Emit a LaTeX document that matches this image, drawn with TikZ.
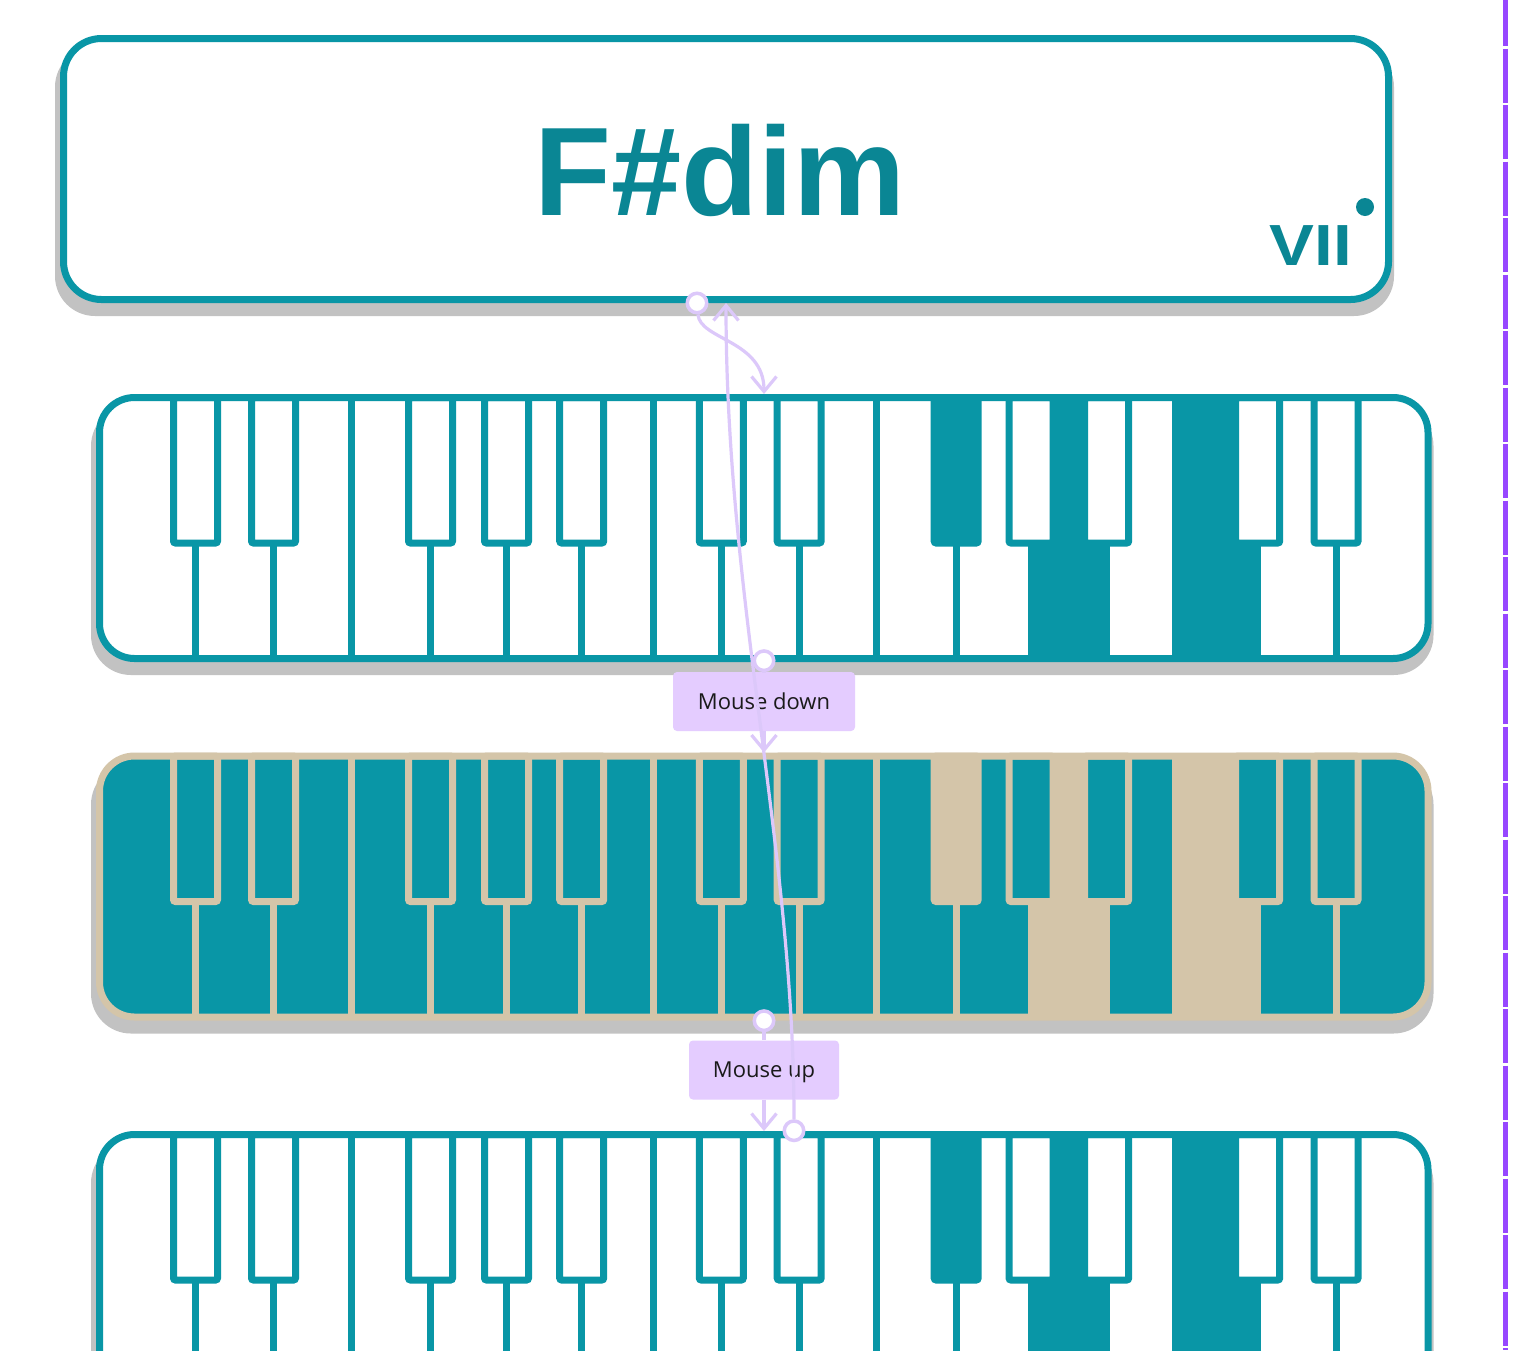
\documentclass[tikz,border=0pt]{standalone}
\usepackage{fontspec}
\newfontfamily\chordfont{Liberation Sans}
\newfontfamily\labelfont{Open Sans}
\usetikzlibrary{arrows.meta}

\definecolor{keyteal}{HTML}{0996A6}
\definecolor{chordteal}{HTML}{0A8694}
\definecolor{keybeige}{HTML}{D4C5A9}
\definecolor{shadowgrey}{HTML}{C2C2C2}
\definecolor{wirelav}{HTML}{DCC8FA}
\definecolor{labellav}{HTML}{E4CCFF}
\definecolor{labeltext}{HTML}{1A1A1A}
\definecolor{sectionpurple}{HTML}{9747FF}

\tikzset{
  kbframe/.style={rectangle, rounded corners=35pt, line width=7pt, inner sep=0pt,
    minimum width=1328.5pt, minimum height=261pt},
  keyline/.style={line width=7pt},
  kbshadow/.style={fill=shadowgrey, rounded corners=40pt},
  chordframe/.style={rectangle, rounded corners=38pt, line width=7pt, draw=keyteal,
    fill=white, inner sep=0pt, minimum width=1325pt, minimum height=261pt},
  chordname/.style={text=chordteal, inner sep=0pt, anchor=base,
    font=\chordfont\bfseries\fontsize{126}{126}\selectfont},
  degreename/.style={text=chordteal, inner sep=0pt, anchor=base,
    font=\chordfont\bfseries\fontsize{58}{58}\selectfont},
  degreedot/.style={circle, fill=chordteal, minimum size=18pt, inner sep=0pt},
  sectionline/.style={draw=sectionpurple, line width=5pt,
    dash pattern=on 54pt off 2.5pt, dash phase=8pt},
  wire/.style={draw=wirelav, line width=3.2pt},
  wirearrow/.style={wire, -{Straight Barb[length=15pt,width=25pt]}},
  port/.style={circle, draw=wirelav, fill=white, line width=3.5pt,
    minimum size=19.5pt, inner sep=0pt},
  evlabel/.style={rectangle, fill=labellav, rounded corners=4pt, inner sep=0pt,
    minimum height=59pt, text height=15.8pt, text depth=0pt, text=labeltext,
    font=\labelfont\fontsize{22}{26}\selectfont},
}

% #1 name, #2 vertical offset, #3 line colour, #4 key colour
\newcommand{\pianoKeys}[4]{%
  \begin{scope}[shift={(0,#2)}]
    \fill[kbshadow] (91,406) rectangle (1433.5,675);
    \node[kbframe, draw=#3, fill=#4] (#1) at (763.75,528) {};
    \foreach \bx in {195.5,273.5,430.5,506.5,581.7,721.3,799.2,956.2,1031,1106.7,1257.7,1336}{
      \draw[keyline, draw=#3, rounded corners=2pt] (\bx-22,397.5) rectangle (\bx+22,543);
      \draw[keyline, draw=#3] (\bx,543) -- (\bx,658.5);
    }
    \foreach \wx in {351,653,876,1175}
      \draw[keyline, draw=#3] (\wx,397.5) -- (\wx,658.5);
    % held notes F#, A, C
    \fill[#3] (934.2,397.5) rectangle (978.2,543);
    \fill[#3] (1031,658.5) |- (1053,543) |- (1084.7,397.5) |- (1106.7,543) -- (1106.7,658.5) -- cycle;
    \fill[#3] (1175,658.5) |- (1235.7,397.5) |- (1257.7,543) -- (1257.7,658.5) -- cycle;
  \end{scope}}

\begin{document}
\begin{tikzpicture}[x=1pt, y=-1pt]
  \useasboundingbox (0,0) rectangle (1530,1350);
  \clip (0,0) rectangle (1530,1350);
  \fill[white] (0,0) rectangle (1530,1350);

  % chord card
  \fill[kbshadow] (55,47) rectangle (1394,316);
  \node[chordframe] (chordBox) at (726,169) {};
  \node[chordname] (chordName) at (720,215) {F\#dim};
  \node[degreename] (degreeName) at (1311,265) {\scalebox{1.16}[1]{VII}};
  \node[degreedot] (degreeDot) at (1365,207) {};

  % keyboards: idle, pressed, released
  \pianoKeys{kbIdle}{0}{keyteal}{white}
  \pianoKeys{kbDown}{358.5}{keybeige}{keyteal}
  \pianoKeys{kbUp}{737}{keyteal}{white}

  % section border
  \draw[sectionline] (1505.5,0) -- (1505.5,1350);

  % events
  \node[evlabel, minimum width=182pt] (lblDown) at (764,701.5) {Mouse down};
  \node[evlabel, minimum width=150pt] (lblUp) at (764,1070) {Mouse up};
  \node[port] (portTop) at (697,303) {};
  \node[port] (portIdle) at (764,660.7) {};
  \node[port] (portDown) at (764,1020.7) {};
  \node[port] (portUp) at (794,1130.7) {};

  \draw[wirearrow] (portTop) .. controls +(3,37) and +(0,-54) .. (lblDown |- kbIdle.north);
  \draw[wire] (portIdle) -- (lblDown);
  \draw[wirearrow] (lblDown) -- (lblDown |- kbDown.north);
  \draw[wire] (portDown) -- (lblUp);
  \draw[wirearrow] (lblUp) -- (lblUp |- kbUp.north);
  \draw[wirearrow] (portUp) .. controls +(0,-280) and +(0,297) .. (chordBox.south);
\end{tikzpicture}
\end{document}
